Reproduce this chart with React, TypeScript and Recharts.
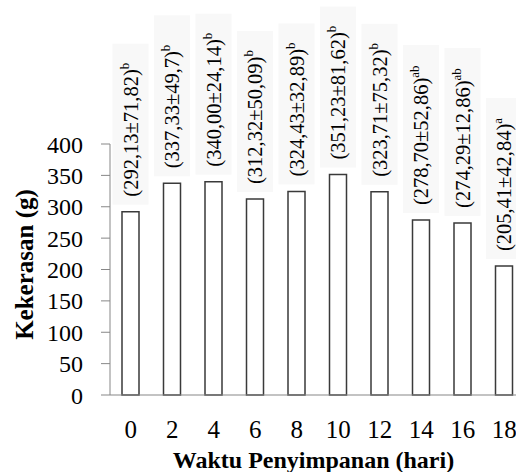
import { Bar, BarChart, LabelList, XAxis, YAxis, Label } from "recharts";

// hardness of stored samples, mean ± SD per storage day, with Duncan letters
const days = ["0", "2", "4", "6", "8", "10", "12", "14", "16", "18"];
const meanHardness = [292.13, 337.33, 340.0, 312.32, 324.43, 351.23, 323.71, 278.7, 274.29, 205.41];
const sdHardness = [71.82, 49.7, 24.14, 50.09, 32.89, 81.62, 75.32, 52.86, 12.86, 42.84];
const notation = ["b", "b", "b", "b", "b", "b", "b", "ab", "ab", "a"];
const yTicks = [0, 50, 100, 150, 200, 250, 300, 350, 400];

const FONT = "Liberation Serif, DejaVu Serif, Times New Roman, serif";
const AXIS = "#878787";

const rows = days.map((d, i) => ({
  day: d,
  mean: meanHardness[i],
  sd: sdHardness[i],
  sig: notation[i],
}));

const comma = (s: string) => s.replace(".", ",");

const BarNote = (props: any) => {
  const { x, y, width, index } = props;
  const r = rows[index];
  if (!r) return null;
  const cx = Number(x) + Number(width) / 2;
  const start = Number(y) - 15;
  const main = `(${comma(r.mean.toFixed(2))}±${comma(String(r.sd))})`;
  const len = 138 + r.sig.length * 7;
  return (
    <g transform={`translate(${cx + 7}, ${start}) rotate(-90)`}>
      <rect x={-8} y={-25} width={len + 16} height={36} fill="#f8f8f8" />
      <text x={0} y={0} style={{ fontFamily: FONT }} fontSize={20.5} fill="#000">
        {main}
        <tspan fontSize={13} dy={-9}>
          {r.sig}
        </tspan>
      </text>
    </g>
  );
};

export default function App() {
  return (
    <div
      style={{
        position: "absolute",
        left: 0,
        top: 0,
        width: 516,
        height: 472,
        overflow: "hidden",
        background: "#fff",
        fontFamily: FONT,
      }}
    >
      <BarChart
        width={530}
        height={472}
        data={rows}
        margin={{ top: 144, right: 5, bottom: 0, left: 50 }}
        barSize={17}
        style={{ fontFamily: FONT }}
      >
        <XAxis
          dataKey="day"
          interval={0}
          tickLine={false}
          tickMargin={19}
          height={77}
          stroke={AXIS}
          tick={{ fill: "#000", fontSize: 25, style: { fontFamily: FONT } }}
        >
          <Label
            content={({ viewBox }: any) => (
              <text
                x={viewBox.x + viewBox.width / 2 - 4}
                y={468}
                textAnchor="middle"
                style={{ fontFamily: FONT }}
                fontWeight="bold"
                fontSize={24}
                fill="#000"
              >
                Waktu Penyimpanan (hari)
              </text>
            )}
          />
        </XAxis>
        <YAxis
          width={60}
          domain={[0, 400]}
          ticks={yTicks}
          interval={0}
          tickSize={9}
          tickMargin={18}
          stroke={AXIS}
          tick={{ fill: "#000", fontSize: 24, style: { fontFamily: FONT } }}
        >
          <Label
            content={({ viewBox }: any) => (
              <text
                transform={`translate(33, ${viewBox.y + viewBox.height / 2 - 5}) rotate(-90)`}
                textAnchor="middle"
                style={{ fontFamily: FONT }}
                fontWeight="bold"
                fontSize={25}
                fill="#000"
              >
                Kekerasan (g)
              </text>
            )}
          />
        </YAxis>
        <Bar dataKey="mean" fill="#fff" stroke="#3a3a3a" strokeWidth={1.5} isAnimationActive={false}>
          <LabelList dataKey="mean" content={BarNote} />
        </Bar>
      </BarChart>
    </div>
  );
}
